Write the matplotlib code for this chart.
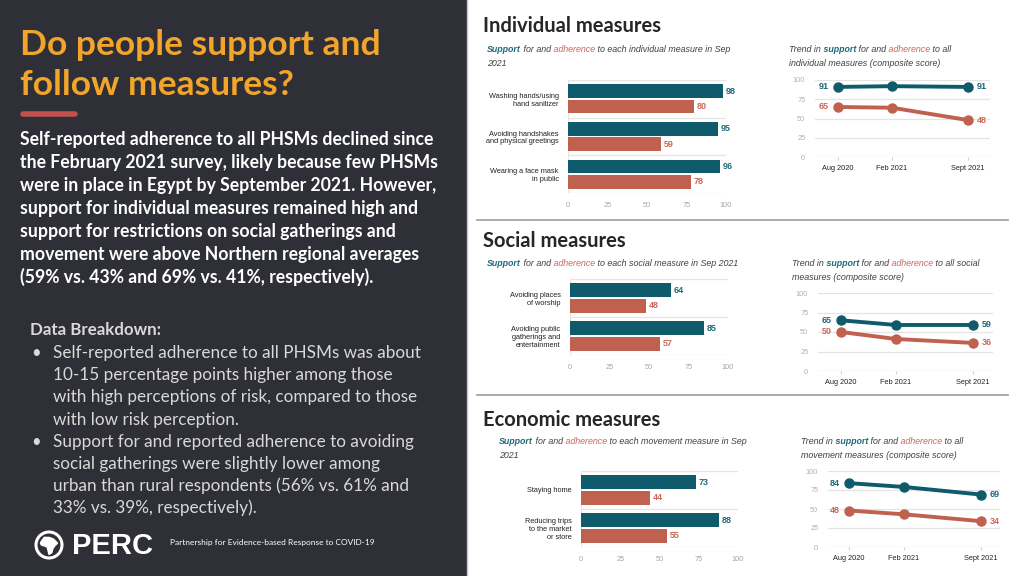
import numpy as np
import matplotlib
matplotlib.use("Agg")
import matplotlib.pyplot as plt
from matplotlib.patches import Rectangle, Circle, Polygon

# ---- data ----
ind_measures = ["Washing hands/using\nhand sanitizer",
                "Avoiding handshakes\nand physical greetings",
                "Wearing a face mask\nin public"]
ind_support = [98, 95, 96]
ind_adherence = [80, 59, 78]

soc_measures = ["Avoiding places\nof worship",
                "Avoiding public\ngatherings and\nentertainment"]
soc_support = [64, 85]
soc_adherence = [48, 57]

eco_measures = ["Staying home", "Reducing trips\nto the market\nor store"]
eco_support = [73, 88]
eco_adherence = [44, 55]

waves = ["Aug 2020", "Feb 2021", "Sept 2021"]
ind_trend_support = [91, 92, 91]
ind_trend_adherence = [65, 64, 48]
soc_trend_support = [65, 59, 59]
soc_trend_adherence = [50, 41, 36]
eco_trend_support = [84, 79, 69]
eco_trend_adherence = [48, 43, 34]

title_lines = ["Do people support and", "follow measures?"]
intro_lines = [
    "Self-reported adherence to all PHSMs declined since",
    "the February 2021 survey, likely because few PHSMs",
    "were in place in Egypt by September 2021. However,",
    "support for individual measures remained high and",
    "support for restrictions on social gatherings and",
    "movement were above Northern regional averages",
    "(59% vs. 43% and 69% vs. 41%, respectively).",
]
bullets = [
    ["Self-reported adherence to all PHSMs was about",
     "10-15 percentage points higher among those",
     "with high perceptions of risk, compared to those",
     "with low risk perception."],
    ["Support for and reported adherence to avoiding",
     "social gatherings were slightly lower among",
     "urban than rural respondents (56% vs. 61% and",
     "33% vs. 39%, respectively)."],
]

# ---- style ----
W, H = 1024, 576
TEAL = "#0f5b6b"
TEAL_TXT = "#1d6a7a"
RED = "#c0604f"
RED_TXT = "#c9695a"
DARK = "#2f3037"
ORANGE = "#f2a52a"
GRAY = "#404040"
SANS = "Lato"
ARIAL = "Liberation Sans"

fig = plt.figure(figsize=(W / 100, H / 100), dpi=100)
fig.patch.set_facecolor("white")
bg = fig.add_axes([0, 0, 1, 1])
bg.set_xlim(0, W)
bg.set_ylim(H, 0)
bg.axis("off")


def px_rect(x0, y0, x1, y1):
    return [x0 / W, 1 - y1 / H, (x1 - x0) / W, (y1 - y0) / H]


# left panel
bg.add_patch(Rectangle((0, 0), 466, H, color=DARK))
bg.plot([466.5, 466.5], [0, H], color="#c8c8c8", lw=1)

for i, line in enumerate(title_lines):
    bg.text(20, 55 + 40 * i, line, color=ORANGE, fontsize=25.5,
            fontweight="bold", family=SANS, va="baseline")
bg.plot([23, 75], [114, 114], color="#c0504d", lw=4, solid_capstyle="round")

for i, line in enumerate(intro_lines):
    bg.text(20, 145 + 23 * i, line, color="white", fontsize=12.7,
            fontweight="bold", family=SANS, va="baseline")

bg.text(30, 335, "Data Breakdown:", color="#d9d9d9", fontsize=12.2,
        fontweight="bold", family=SANS, va="baseline")
y = 358
for b in bullets:
    bg.text(31, y, "\u2022", color="#d9d9d9", fontsize=12, family=SANS,
            va="baseline")
    for line in b:
        bg.text(53, y, line, color="#d9d9d9", fontsize=12.3, family=SANS,
                va="baseline")
        y += 22.2

# PERC logo
bg.add_patch(Circle((49, 545), 13, fill=False, ec="white", lw=2.2))
africa = np.array([(-8, -4), (-5, -8), (0, -8), (3, -7), (5, -6), (8, -3),
                   (9, -2), (6, 1), (4, 4), (3, 8), (0, 10), (-1, 6),
                   (-2, 2), (-5, 1), (-8, 0), (-9, -2)]) * 0.95
bg.add_patch(Polygon(africa + [49, 545], closed=True, color="white"))
bg.text(72, 554, "PERC", color="white", fontsize=21, fontweight="bold",
        family=ARIAL, va="baseline")
bg.text(170, 542, "Partnership for Evidence-based Response to COVID-19",
        color="white", fontsize=6, family=SANS, va="center")

# right side section headers and separators
for label, yb in [("Individual measures", 32), ("Social measures", 247),
                  ("Economic measures", 426)]:
    bg.text(483, yb, label, color="#262626", fontsize=14.5, fontweight="bold",
            family=SANS, va="baseline")
for ys in [220, 395]:
    bg.plot([477, 1008], [ys, ys], color="#a6a6a6", lw=1.3)


def rich(x, y, parts, size=6.4):
    # chain text pieces: each one starts at the right edge of the previous
    prev = None
    for s, color, weight in parts:
        kw = dict(fontsize=size, fontstyle="italic", fontweight=weight,
                  family=ARIAL, color=color)
        if prev is None:
            prev = bg.text(x, y + 2.5, s, va="baseline", **kw)
        else:
            prev = bg.annotate(s, xy=(1, 0), xycoords=prev, va="bottom",
                               **kw)


def bar_sub(x, y, rest, line2=None):
    rich(x, y, [("Support", TEAL_TXT, "bold"), (" for and", GRAY, "normal"),
                (" adherence", RED_TXT, "normal"), (rest, GRAY, "normal")])
    if line2:
        rich(x, y + 14, [(line2, GRAY, "normal")])


def line_sub(x, y, rest, line2):
    rich(x, y, [("Trend in", GRAY, "normal"), (" support", TEAL_TXT, "bold"),
                (" for and", GRAY, "normal"), (" adherence", RED_TXT, "normal"),
                (rest, GRAY, "normal")])
    rich(x, y + 14, [(line2, GRAY, "normal")])


bar_sub(487, 50, " to each individual measure in Sep", "2021")
line_sub(789, 50, " to all", "individual measures (composite score)")
bar_sub(487, 263, " to each social measure in Sep 2021")
line_sub(792, 263, " to all social", "measures (composite score)")
bar_sub(499, 442, " to each movement measure in Sep", "2021")
line_sub(801, 441, " to all", "movement measures (composite score)")


def bar_panel(rect, cats, sup, adh):
    ax = fig.add_axes(px_rect(*rect))
    ax.set_facecolor("none")
    n = len(cats)
    yy = np.arange(n)
    ax.barh(yy - 0.205, sup, height=0.36, color=TEAL)
    ax.barh(yy + 0.205, adh, height=0.36, color=RED)
    for i in range(n):
        ax.text(sup[i] + 1.8, yy[i] - 0.205, str(sup[i]), va="center",
                ha="left", color=TEAL_TXT, fontsize=6.5, fontweight="bold",
                family=ARIAL)
        ax.text(adh[i] + 1.8, yy[i] + 0.205, str(adh[i]), va="center",
                ha="left", color=RED_TXT, fontsize=6.5, fontweight="bold",
                family=ARIAL)
    for b in np.arange(n + 1) - 0.5:
        ax.axhline(b, color="#e4e4e4", lw=0.9, zorder=0)
    ax.axvline(0, color="#e4e4e4", lw=0.9, zorder=0)
    ax.set_xlim(0, 100)
    ax.set_ylim(n - 0.5, -0.5)
    for s in ax.spines.values():
        s.set_visible(False)
    ax.set_yticks(yy, cats)
    ax.set_xticks([0, 25, 50, 75, 100])
    ax.tick_params(axis="y", length=0, pad=6.8, labelsize=5.3,
                   labelcolor="#222222")
    ax.tick_params(axis="x", length=0, pad=6.5, labelsize=5.3,
                   labelcolor="#a6a6a6")
    for t in ax.get_yticklabels() + ax.get_xticklabels():
        t.set_family(ARIAL)
    for t in ax.get_yticklabels():
        t.set_linespacing(1.15)
        t.set_multialignment("right")


def line_panel(rect, cat_px, sup, adh):
    x0, y0, x1, y1 = rect
    ax = fig.add_axes(px_rect(*rect))
    ax.set_facecolor("none")
    xpos = [0, 1, 2.4]
    unit = cat_px[1] - cat_px[0]
    ax.set_xlim((x0 - cat_px[0]) / unit, (x1 - cat_px[0]) / unit)
    ax.set_ylim(0, 100)
    for v in [0, 25, 50, 75, 100]:
        ax.axhline(v, color="#e4e4e4" if v else "#d6d6d6", lw=0.9, zorder=0)
    for vals, c, ct in [(sup, TEAL, TEAL_TXT), (adh, RED, RED_TXT)]:
        ax.plot(xpos, vals, color=c, lw=2.8, marker="o", ms=6.5,
                clip_on=False, solid_capstyle="round")
        ax.annotate(str(vals[0]), (xpos[0], vals[0]), xytext=(-6.5, 0),
                    textcoords="offset points", ha="right", va="center",
                    color=ct, fontsize=6.5, fontweight="bold", family=ARIAL)
        ax.annotate(str(vals[-1]), (xpos[-1], vals[-1]), xytext=(6.5, 0),
                    textcoords="offset points", ha="left", va="center",
                    color=ct, fontsize=6.5, fontweight="bold", family=ARIAL)
    for s in ax.spines.values():
        s.set_visible(False)
    ax.set_yticks([0, 25, 50, 75, 100])
    ax.set_xticks(xpos, waves)
    ax.tick_params(axis="y", length=0, pad=7, labelsize=5.3,
                   labelcolor="#b0b0b0")
    ax.tick_params(axis="x", length=2.5, color="#d0d0d0", pad=3,
                   labelsize=5.3, labelcolor="#222222")
    for t in ax.get_yticklabels() + ax.get_xticklabels():
        t.set_family(ARIAL)


bar_panel((568, 80, 726, 193), ind_measures, ind_support, ind_adherence)
bar_panel((570, 279, 728, 355), soc_measures, soc_support, soc_adherence)
bar_panel((581, 471, 738, 547), eco_measures, eco_support, eco_adherence)

line_panel((815, 80, 990, 157), (838, 892), ind_trend_support,
           ind_trend_adherence)
line_panel((818, 293, 993, 371), (841, 896), soc_trend_support,
           soc_trend_adherence)
line_panel((828, 471, 1000, 547), (849, 904), eco_trend_support,
           eco_trend_adherence)

fig.savefig("out.png", dpi=100, facecolor=fig.get_facecolor())
